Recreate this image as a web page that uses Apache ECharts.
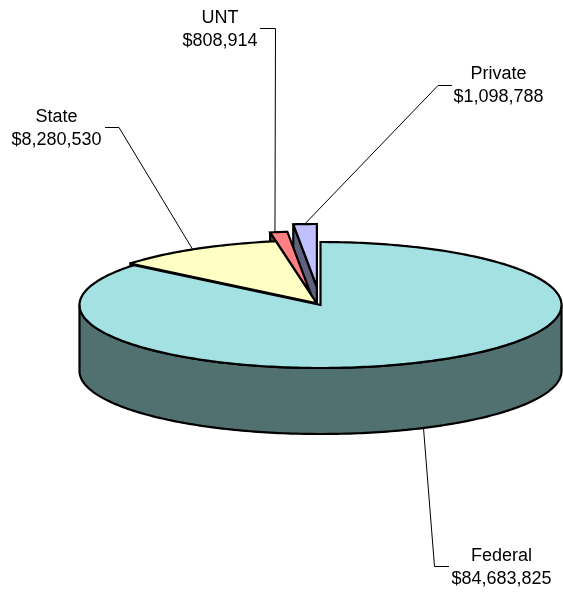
<!DOCTYPE html>
<html>
<head>
<meta charset="utf-8">
<style>html,body{margin:0;padding:0;background:#fff}#c{width:563px;height:592px}</style>
<script src="https://cdn.jsdelivr.net/npm/echarts@6/dist/echarts.min.js"></script>
</head>
<body>
<div id="c"></div>
<script>
// Data
const categories = ['Federal', 'State', 'UNT', 'Private'];
const values = [84683825, 8280530, 808914, 1098788];

// Styling and layout (not data)
const topColors = ['#A3E1E2', '#FFFFC4', '#FF8080', '#C0C0FF'];
const sideColors = ['#517070', '#808062', '#804040', '#606080'];
const explodeOffsets = [[0, 0], [-3.7, -1.6], [-9.5, -10.5], [-3.6, -18]];
const CX = 320.5, CY = 305, RX = 241, RY = 63, DEPTH = 66;
const PERSPECTIVE = 1.35; // foreshortening of the tilted disc
const anchorAngle = [154.7, -31, -8.6, -2.9];
const anchorOnWall = [true, false, false, false];
const elbows = [[[434.5, 566.5], [449, 566.5]], [[119, 127.5], [105, 127.5]], [[275.5, 28.5], [260, 28.5]], [[438, 85.5], [452, 85.5]]];
const labelCentres = [[501.5, 568], [56.5, 129], [220, 30], [498.5, 86]];

const total = values.reduce((a, b) => a + b, 0);
const rad = d => d * Math.PI / 180;
const project = t => 2 * Math.atan2(PERSPECTIVE * Math.sin(rad(t) / 2), Math.cos(rad(t) / 2)) * 180 / Math.PI;

let cum = 0;
const slices = values.map((v, i) => {
  const a = project(cum); cum += v / total * 360; const b = project(cum);
  return { i, a, b, dx: explodeOffsets[i][0], dy: explodeOffsets[i][1] };
});
const pt = (s, t, drop) => [CX + s.dx + RX * Math.sin(rad(t)), CY + s.dy - RY * Math.cos(rad(t)) + (drop || 0)];
const arc = (s, a, b, drop) => {
  const out = [], n = Math.max(2, Math.ceil(Math.abs(b - a)));
  for (let k = 0; k <= n; k++) out.push(pt(s, a + (b - a) * k / n, drop));
  return out;
};

function renderSlice(params) {
  const s = slices[drawOrder[params.dataIndex]];
  const line = { stroke: '#000', lineWidth: 2.2, lineJoin: 'miter', miterLimit: 3 };
  const children = [];
  const apex = [CX + s.dx, CY + s.dy];
  if (s.i > 0) {
    children.push({ type: 'polygon', shape: { points: [pt(s, s.a), apex, [apex[0], apex[1] + DEPTH], pt(s, s.a, DEPTH)] },
      style: Object.assign({ fill: sideColors[s.i] }, line) });
  }
  const w0 = Math.max(s.a, 90), w1 = Math.min(s.b, 270);
  if (w1 > w0) {
    children.push({ type: 'polygon', shape: { points: arc(s, w0, w1).concat(arc(s, w1, w0, DEPTH)) },
      style: Object.assign({ fill: sideColors[s.i] }, line) });
  }
  children.push({ type: 'polygon', shape: { points: [apex].concat(arc(s, s.a, s.b)) },
    style: Object.assign({ fill: topColors[s.i] }, line) });
  return { type: 'group', children };
}

function renderLabel(params) {
  const i = params.dataIndex, s = slices[i];
  const start = pt(s, anchorAngle[i], anchorOnWall[i] ? DEPTH : 0);
  const c = labelCentres[i];
  return { type: 'group', children: [
    { type: 'polyline', shape: { points: [start].concat(elbows[i]) },
      style: { stroke: '#000', lineWidth: 1, fill: null } },
    { type: 'text', x: c[0], y: c[1],
      style: { text: categories[i] + '\n$' + values[i].toLocaleString('en-US'),
        font: '18px "Liberation Sans", Arial, sans-serif', lineHeight: 23,
        fill: '#000', align: 'center', verticalAlign: 'middle' } }
  ] };
}

const drawOrder = [3, 2, 1, 0];
const chart = echarts.init(document.getElementById('c'), null, { renderer: 'canvas' });
chart.setOption({
  animation: false,
  backgroundColor: '#fff',
  series: [
    { type: 'custom', coordinateSystem: 'none', silent: true, clip: false, z: 2,
      data: drawOrder.map(i => ({ name: categories[i], value: values[i] })), renderItem: renderSlice },
    { type: 'custom', coordinateSystem: 'none', silent: true, clip: false, z: 1,
      data: categories.map((n, i) => ({ name: n, value: values[i] })), renderItem: renderLabel }
  ]
});
</script>
</body>
</html>
